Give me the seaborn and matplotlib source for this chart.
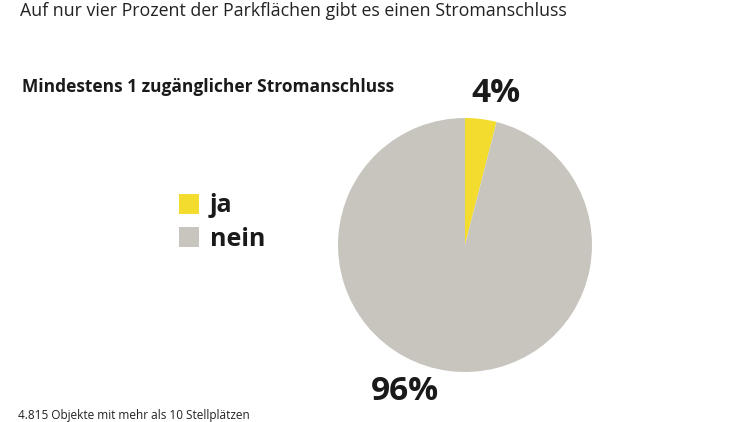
import matplotlib
matplotlib.use("Agg")
import matplotlib.pyplot as plt
import seaborn as sns

categories = ["ja", "nein"]
values = [4, 96]
pct_labels = ["4%", "96%"]
colors = ["#f3dc2e", "#c8c5bf"]

sns.set_theme(style="white")
plt.rcParams['font.family'] = ['Open Sans', 'DejaVu Sans']

fig = plt.figure(figsize=(7.5, 4.22), dpi=100)
fig.patch.set_facecolor("white")

# pie axes: center (465,245), radius ~127 px
r = 127
cx, cy = 465, 245
ax = fig.add_axes([(cx - r) / 750, 1 - (cy + r) / 422, 2 * r / 750, 2 * r / 422])
wedges, _ = ax.pie(values, colors=colors, startangle=90, counterclock=False,
                   wedgeprops=dict(linewidth=0))
ax.set_xlim(-1, 1)
ax.set_ylim(-1, 1)
ax.set_aspect("equal")
ax.axis("off")

fig.text(20 / 750, 1 - 11 / 422, "Auf nur vier Prozent der Parkflächen gibt es einen Stromanschluss",
         fontsize=12.8, color="#222222", va="center", ha="left")
fig.text(22 / 750, 1 - 87 / 422, "Mindestens 1 zugänglicher Stromanschluss",
         fontsize=12.5, fontweight="bold", color="#1a1a1a", va="center", ha="left")
fig.text(496 / 750, 1 - 93 / 422, pct_labels[0], fontsize=24, fontweight="bold",
         color="#1a1a1a", va="center", ha="center")
fig.text(405 / 750, 1 - 391 / 422, pct_labels[1], fontsize=24, fontweight="bold",
         color="#1a1a1a", va="center", ha="center")
fig.text(18 / 750, 1 - 415 / 422, "4.815 Objekte mit mehr als 10 Stellplätzen",
         fontsize=8.5, color="#222222", va="center", ha="left")

leg = fig.legend(wedges, categories, loc="upper left",
                 bbox_to_anchor=(156 / 750, 1 - 171 / 422), frameon=False,
                 prop=dict(size=18, weight="bold"), handlelength=0.8, handleheight=0.85,
                 labelspacing=0.32, handletextpad=0.45)
for t in leg.get_texts():
    t.set_color("#1a1a1a")

fig.savefig("out.png", dpi=100, facecolor="white")
